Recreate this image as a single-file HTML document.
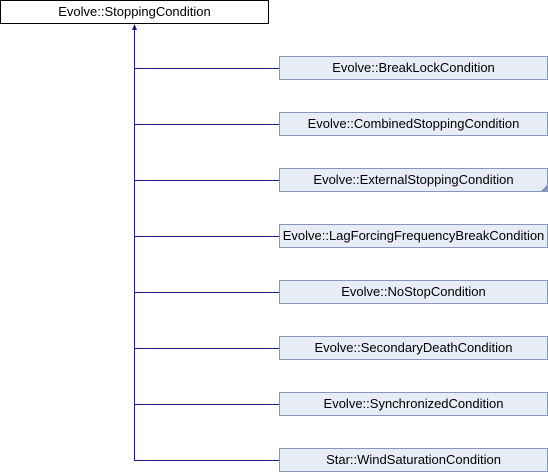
<!DOCTYPE html>
<html><head><style>
body{margin:0;width:548px;height:472px;background:#fff;position:relative;overflow:hidden;font-family:"Liberation Sans",sans-serif;}
.b{position:absolute;box-sizing:border-box;height:24px;font-size:13px;line-height:21px;text-align:center;color:#000;white-space:nowrap;}
.t{left:0;top:0;width:269px;border:1px solid #000;background:#fff;}
.c{left:279px;width:269px;border:1px solid #8796bd;background:#e8ecf5;}
</style></head><body>
<svg width="548" height="472" style="position:absolute;left:0;top:0">
<g stroke="#1a1a8c" stroke-width="1" fill="none">
<line x1="134.5" y1="27" x2="134.5" y2="460.5"/>
<line x1="134" y1="68.5" x2="279" y2="68.5"/>
<line x1="134" y1="124.5" x2="279" y2="124.5"/>
<line x1="134" y1="180.5" x2="279" y2="180.5"/>
<line x1="134" y1="236.5" x2="279" y2="236.5"/>
<line x1="134" y1="292.5" x2="279" y2="292.5"/>
<line x1="134" y1="348.5" x2="279" y2="348.5"/>
<line x1="134" y1="404.5" x2="279" y2="404.5"/>
<line x1="134" y1="460.5" x2="279" y2="460.5"/>
</g>
<polygon points="134.5,24 132,30 137,30" fill="#1a1a8c"/>
</svg>
<div class="b t">Evolve::StoppingCondition</div>
<div class="b c" style="top:56px">Evolve::BreakLockCondition</div>
<div class="b c" style="top:112px">Evolve::CombinedStoppingCondition</div>
<div class="b c" style="top:168px">Evolve::ExternalStoppingCondition</div>
<div class="b c" style="top:224px">Evolve::LagForcingFrequencyBreakCondition</div>
<div class="b c" style="top:280px">Evolve::NoStopCondition</div>
<div class="b c" style="top:336px">Evolve::SecondaryDeathCondition</div>
<div class="b c" style="top:392px">Evolve::SynchronizedCondition</div>
<div class="b c" style="top:448px">Star::WindSaturationCondition</div>
<svg width="548" height="472" style="position:absolute;left:0;top:0"><polygon points="547,185 547,191 541,191" fill="#8796bd"/></svg>
</body></html>
